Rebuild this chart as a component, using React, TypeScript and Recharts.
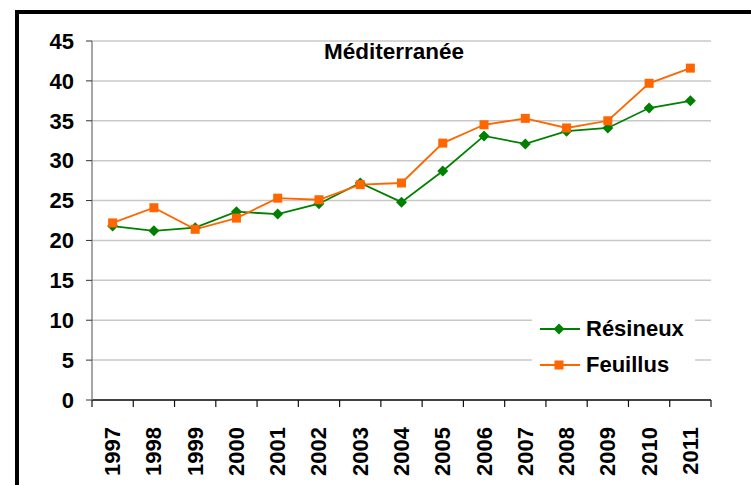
import React from 'react';
import { LineChart, Line, XAxis, YAxis, CartesianGrid } from 'recharts';

const years = [1997, 1998, 1999, 2000, 2001, 2002, 2003, 2004, 2005, 2006, 2007, 2008, 2009, 2010, 2011];
const resineux = [21.8, 21.2, 21.6, 23.6, 23.3, 24.6, 27.2, 24.8, 28.7, 33.1, 32.1, 33.7, 34.1, 36.6, 37.5];
const feuillus = [22.2, 24.1, 21.4, 22.8, 25.3, 25.1, 27.0, 27.2, 32.2, 34.5, 35.3, 34.1, 35.0, 39.7, 41.6];
const yTicks = [0, 5, 10, 15, 20, 25, 30, 35, 40, 45];
const seriesNames = ['Résineux', 'Feuillus'];
const title = 'Méditerranée';

const data = years.map((year, i) => ({ year, resineux: resineux[i], feuillus: feuillus[i] }));
const boundaryTicks = [...years.map((y) => y - 0.5), years[years.length - 1] + 0.5];
const xDomain = [years[0] - 0.5, years[years.length - 1] + 0.5];

const FONT = '"Liberation Sans", Arial, sans-serif';
const GREEN = '#008000';
const ORANGE = '#FF6600';

const Diamond = (props: any) => {
  const { cx, cy } = props;
  if (cx == null || cy == null) return null;
  const r = 5.5;
  return <polygon points={`${cx},${cy - r} ${cx + r},${cy} ${cx},${cy + r} ${cx - r},${cy}`} fill={GREEN} />;
};

const Square = (props: any) => {
  const { cx, cy } = props;
  if (cx == null || cy == null) return null;
  const s = 9;
  return <rect x={cx - s / 2} y={cy - s / 2} width={s} height={s} fill={ORANGE} />;
};

const EmptyTick = () => <text />;

const YearTick = (props: any) => {
  const { x, y, payload } = props;
  return (
    <text
      x={x}
      y={y}
      transform={`rotate(-90 ${x} ${y})`}
      textAnchor="end"
      dominantBaseline="central"
      fontFamily={FONT}
      fontWeight="bold"
      fontSize={22}
      fill="#000"
    >
      {payload.value}
    </text>
  );
};

const LegendBox = () => {
  const rows = [
    { name: seriesNames[0], color: GREEN, marker: 'diamond' },
    { name: seriesNames[1], color: ORANGE, marker: 'square' },
  ];
  return (
    <div style={{ position: 'absolute', left: 532, top: 311, width: 163, background: '#fff', paddingLeft: 8, boxSizing: 'border-box' }}>
      {rows.map((r) => (
        <div key={r.name} style={{ display: 'flex', alignItems: 'center', height: 36 }}>
          <svg width={40} height={14} style={{ marginRight: 6 }}>
            <line x1={0} y1={7} x2={40} y2={7} stroke={r.color} strokeWidth={2} />
            {r.marker === 'diamond' ? (
              <polygon points="19,1.5 24.5,7 19,12.5 13.5,7" fill={r.color} />
            ) : (
              <rect x={14.5} y={2.5} width={9} height={9} fill={r.color} />
            )}
          </svg>
          <span style={{ fontFamily: FONT, fontWeight: 'bold', fontSize: 22, color: '#000' }}>{r.name}</span>
        </div>
      ))}
    </div>
  );
};

export default function App() {
  return (
    <div style={{ position: 'absolute', left: 0, top: 0, width: 751, height: 485, overflow: 'hidden', background: '#fff' }}>
      <div
        style={{
          position: 'absolute',
          left: 15,
          top: 10,
          width: 800,
          height: 600,
          border: '4px solid #000',
          boxSizing: 'border-box',
        }}
      />
      <div
        style={{
          position: 'absolute',
          left: 294,
          width: 200,
          top: 40,
          textAlign: 'center',
          fontFamily: FONT,
          fontWeight: 'bold',
          fontSize: 22.5,
          color: '#000',
          lineHeight: '24px',
        }}
      >
        {title}
      </div>
      <div style={{ position: 'absolute', left: 0, top: 0 }}>
        <LineChart width={751} height={485} data={data} margin={{ top: 41, right: 40, left: 32, bottom: 0 }}>
          <CartesianGrid horizontal vertical={false} stroke="#c8c8c8" strokeWidth={1.5} />
          <XAxis
            xAxisId="labels"
            type="number"
            dataKey="year"
            domain={xDomain}
            ticks={years}
            tick={YearTick}
            tickLine={false}
            axisLine={false}
            tickMargin={20}
            height={84}
            interval={0}
            allowDataOverflow
          />
          <XAxis
            type="number"
            dataKey="year"
            domain={xDomain}
            ticks={boundaryTicks}
            tick={EmptyTick}
            tickSize={7}
            height={1}
            axisLine={{ stroke: '#111', strokeWidth: 1.5 }}
            tickLine={{ stroke: '#111', strokeWidth: 1.2 }}
            interval={0}
            allowDataOverflow
          />
          <YAxis
            type="number"
            domain={[0, 45]}
            ticks={yTicks}
            width={60}
            interval={0}
            tickSize={6}
            tickMargin={12}
            axisLine={{ stroke: '#888', strokeWidth: 1.5 }}
            tickLine={{ stroke: '#333' }}
            tick={{ fontFamily: FONT, fontWeight: 'bold', fontSize: 22, fill: '#000' }}
          />
          <Line
            type="linear"
            dataKey="resineux"
            name={seriesNames[0]}
            stroke={GREEN}
            strokeWidth={1.8}
            dot={Diamond}
            activeDot={false}
            isAnimationActive={false}
          />
          <Line
            type="linear"
            dataKey="feuillus"
            name={seriesNames[1]}
            stroke={ORANGE}
            strokeWidth={1.8}
            dot={Square}
            activeDot={false}
            isAnimationActive={false}
          />
        </LineChart>
      </div>
      <LegendBox />
    </div>
  );
}
